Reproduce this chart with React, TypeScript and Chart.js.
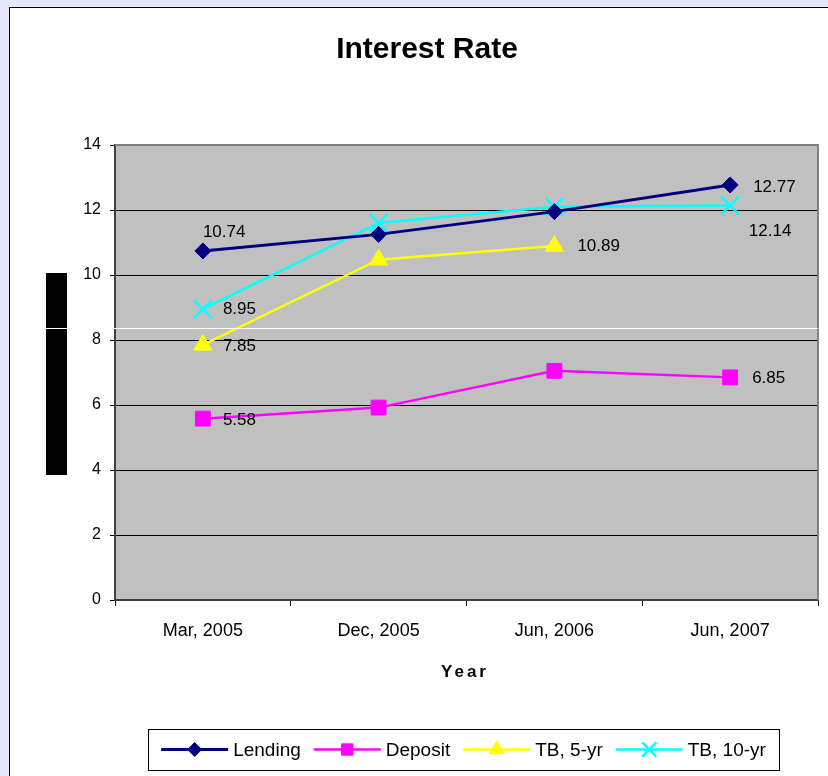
import React, { useEffect, useRef } from "react";
import { Chart, registerables } from "chart.js";
import { drawPoint } from "chart.js/helpers";

Chart.register(...registerables);

// ---------- data ----------
const categories = ["Mar, 2005", "Dec, 2005", "Jun, 2006", "Jun, 2007"];
const seriesNames = ["Lending", "Deposit", "TB, 5-yr", "TB, 10-yr"];
const lending = [10.74, 11.25, 11.95, 12.77];
const deposit = [5.58, 5.92, 7.05, 6.85];
const tb5yr: (number | null)[] = [7.85, 10.47, 10.89, null];
const tb10yr = [8.95, 11.6, 12.1, 12.14];
const yMin = 0;
const yMax = 14;
const yStep = 2;
const chartTitle = "Interest Rate";
const xTitle = "Year";

// which points carry a value label (series index, point index) and label placement
const valueLabels = [
  { series: 0, index: 0, dx: 0, dy: -19, align: "left" },
  { series: 0, index: 3, dx: 23, dy: 2, align: "left" },
  { series: 1, index: 0, dx: 20, dy: 2, align: "left" },
  { series: 1, index: 3, dx: 22, dy: 1, align: "left" },
  { series: 2, index: 0, dx: 20, dy: 1, align: "left" },
  { series: 2, index: 2, dx: 23, dy: 0, align: "left" },
  { series: 3, index: 0, dx: 20, dy: 0, align: "left" },
  { series: 3, index: 3, dx: 40, dy: 26, align: "center" },
];

const FONT = "'Liberation Sans', Arial, sans-serif";

const styles = [
  { color: "#000080", pointStyle: "rectRot", radius: 8, legendRadius: 7, width: 3 },
  { color: "#FF00FF", pointStyle: "rect", radius: 10.5, legendRadius: 8, width: 2.5 },
  { color: "#FFFF00", pointStyle: "triangle", radius: 10.5, legendRadius: 8.5, width: 2.5 },
  { color: "#00FFFF", pointStyle: "crossRot", radius: 12.5, legendRadius: 10, width: 2.5 },
];

const chromePlugin = {
  id: "excelChrome",
  beforeDraw(chart: any) {
    const { ctx, chartArea: a } = chart;
    ctx.save();
    ctx.fillStyle = "#C0C0C0";
    ctx.fillRect(a.left, a.top, a.right - a.left, a.bottom - a.top);
    ctx.restore();
  },
  beforeDatasetsDraw(chart: any) {
    const { ctx, chartArea: a } = chart;
    ctx.save();
    ctx.strokeStyle = "#808080";
    ctx.lineWidth = 2;
    ctx.beginPath();
    ctx.moveTo(a.left, a.top);
    ctx.lineTo(a.right, a.top);
    ctx.lineTo(a.right, a.bottom);
    ctx.stroke();
    ctx.restore();
  },
  afterDatasetsDraw(chart: any) {
    const { ctx } = chart;
    ctx.save();
    ctx.fillStyle = "#000";
    ctx.font = `17px ${FONT}`;
    ctx.textBaseline = "middle";
    valueLabels.forEach((l) => {
      const meta = chart.getDatasetMeta(l.series);
      const pt = meta.data[l.index];
      const v = chart.data.datasets[l.series].data[l.index];
      if (!pt || v == null) return;
      ctx.textAlign = l.align;
      ctx.fillText(Number(v).toFixed(2), pt.x + l.dx, pt.y + l.dy);
    });
    ctx.restore();
  },
  afterDraw(chart: any) {
    const { ctx } = chart;
    ctx.save();
    // title
    ctx.fillStyle = "#000";
    ctx.font = `bold 30px ${FONT}`;
    ctx.textAlign = "center";
    ctx.textBaseline = "middle";
    ctx.fillText(chartTitle, 427, 50);
    // x title
    ctx.font = `bold 17px ${FONT}`;
    (ctx as any).letterSpacing = "3px";
    ctx.fillText(xTitle, 465, 672);
    (ctx as any).letterSpacing = "0px";

    // legend
    const box = { x: 148, y: 729, w: 631, h: 41 };
    ctx.fillStyle = "#fff";
    ctx.fillRect(box.x, box.y, box.w, box.h);
    ctx.strokeStyle = "#000";
    ctx.lineWidth = 1;
    ctx.strokeRect(box.x + 0.5, box.y + 0.5, box.w, box.h);
    ctx.font = `19px ${FONT}`;
    const lineLen = 67;
    const textGap = 5;
    const itemGap = 13;
    const widths = chart.data.datasets.map(
      (d: any) => lineLen + textGap + ctx.measureText(d.label).width
    );
    const total = widths.reduce((s: number, w: number) => s + w, 0) + itemGap * (widths.length - 1);
    let x = box.x + (box.w - total) / 2;
    const cy = box.y + box.h / 2;
    chart.data.datasets.forEach((d: any, i: number) => {
      const st = styles[i];
      ctx.strokeStyle = st.color;
      ctx.lineWidth = st.width;
      ctx.beginPath();
      ctx.moveTo(x, cy);
      ctx.lineTo(x + lineLen, cy);
      ctx.stroke();
      ctx.fillStyle = st.color;
      ctx.strokeStyle = st.color;
      ctx.lineWidth = st.pointStyle === "crossRot" ? 2.5 : 1;
      drawPoint(ctx, { pointStyle: st.pointStyle, radius: st.legendRadius, rotation: 0, borderWidth: ctx.lineWidth } as any, x + lineLen / 2, cy);
      ctx.fillStyle = "#000";
      ctx.textAlign = "left";
      ctx.fillText(d.label, x + lineLen + textGap, cy + 1);
      x += widths[i] + itemGap;
    });
    ctx.restore();
  },
};

export default function App() {
  const ref = useRef<HTMLCanvasElement | null>(null);
  useEffect(() => {
    if (!ref.current) return;
    const series = [lending, deposit, tb5yr, tb10yr];
    const chart = new Chart(ref.current, {
      type: "line",
      data: {
        labels: categories,
        datasets: series.map((vals, i) => ({
          label: seriesNames[i],
          data: vals,
          borderColor: styles[i].color,
          backgroundColor: styles[i].color,
          borderWidth: styles[i].width,
          pointStyle: styles[i].pointStyle as any,
          pointRadius: styles[i].radius,
          pointHoverRadius: styles[i].radius,
          pointBorderWidth: styles[i].pointStyle === "crossRot" ? 2.5 : 1,
          pointBorderColor: styles[i].color,
          pointBackgroundColor: styles[i].color,
          tension: 0,
          spanGaps: false,
          fill: false,
        })),
      },
      options: {
        responsive: false,
        animation: false,
        events: [],
        layout: { autoPadding: false, padding: { top: 145, right: 10, left: 0, bottom: 0 } },
        plugins: {
          legend: { display: false },
          title: { display: false },
          tooltip: { enabled: false },
        },
        scales: {
          x: {
            type: "category",
            offset: true,
            grid: {
              offset: true,
              drawOnChartArea: false,
              drawTicks: true,
              tickLength: 6,
              color: "#000",
            },
            border: { color: "#404040", width: 2 },
            ticks: {
              color: "#000",
              font: { family: FONT, size: 18 },
              padding: 14,
              maxRotation: 0,
            },
            afterFit(scale: any) {
              scale.height = 176;
              scale.paddingLeft = 0;
              scale.paddingRight = 0;
            },
          },
          y: {
            min: yMin,
            max: yMax,
            grid: {
              color: (c: any) => (c.tick && c.tick.value === yMax ? "rgba(0,0,0,0)" : "#000"),
              tickColor: "#000",
              tickLength: 5,
              drawTicks: true,
            },
            border: { color: "#404040", width: 2 },
            ticks: {
              stepSize: yStep,
              color: "#000",
              font: { family: FONT, size: 16 },
              padding: 9,
            },
            afterFit(scale: any) {
              scale.width = 115;
              scale.paddingTop = 0;
              scale.paddingBottom = 0;
            },
          },
        },
      },
      plugins: [chromePlugin],
    });
    return () => chart.destroy();
  }, []);

  return (
    <div
      style={{
        position: "fixed",
        left: 0,
        top: 0,
        width: 828,
        height: 776,
        background: "#E4E9FA",
        overflow: "hidden",
      }}
    >
      <div
        style={{
          position: "absolute",
          left: 9,
          top: 7,
          width: 840,
          height: 800,
          background: "#fff",
          border: "1px solid #000",
        }}
      />
      <canvas
        ref={ref}
        width={828}
        height={776}
        style={{ position: "absolute", left: 0, top: 0, display: "block" }}
      />
      <div
        style={{ position: "absolute", left: 46, top: 273, width: 21, height: 202, background: "#000" }}
      />
      <div
        style={{ position: "absolute", left: 46, top: 328, width: 772, height: 1, background: "#fff" }}
      />
    </div>
  );
}
